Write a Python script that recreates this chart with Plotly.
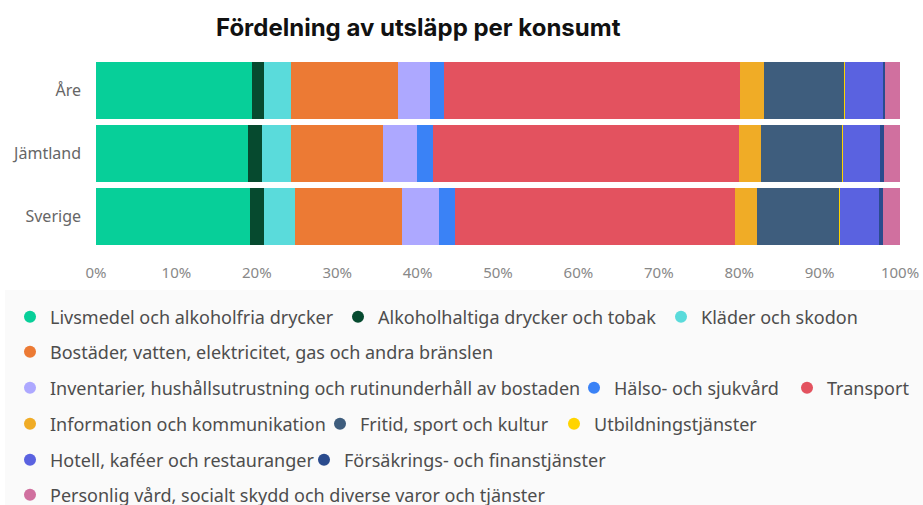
import plotly.graph_objects as go

regions = ["Åre", "Jämtland", "Sverige"]

categories = [
    "Livsmedel och alkoholfria drycker",
    "Alkoholhaltiga drycker och tobak",
    "Kläder och skodon",
    "Bostäder, vatten, elektricitet, gas och andra bränslen",
    "Inventarier, hushållsutrustning och rutinunderhåll av bostaden",
    "Hälso- och sjukvård",
    "Transport",
    "Information och kommunikation",
    "Fritid, sport och kultur",
    "Utbildningstjänster",
    "Hotell, kaféer och restauranger",
    "Försäkrings- och finanstjänster",
    "Personlig vård, socialt skydd och diverse varor och tjänster",
]

# Share (%) per region: [Åre, Jämtland, Sverige]
livsmedel = [19.4, 18.9, 19.2]
alkohol = [1.5, 1.7, 1.7]
klader = [3.4, 3.6, 3.9]
bostader = [13.2, 11.5, 13.2]
inventarier = [4.0, 4.2, 4.6]
halso = [1.8, 2.0, 2.1]
transport = [36.8, 38.1, 34.8]
information = [3.0, 2.7, 2.7]
fritid = [10.0, 10.2, 10.3]
utbildning = [0.01, 0.01, 0.01]
hotell = [4.79, 4.59, 4.89]
forsakring = [0.2, 0.5, 0.5]
personlig = [1.9, 2.0, 2.1]

tick_values = [0, 0.1, 0.2, 0.3, 0.4, 0.5, 0.6, 0.7, 0.8, 0.9, 1.0]
tick_labels = ["0%", "10%", "20%", "30%", "40%", "50%", "60%", "70%", "80%", "90%", "100%"]

series = [livsmedel, alkohol, klader, bostader, inventarier, halso, transport,
          information, fritid, utbildning, hotell, forsakring, personlig]

colors = ["#07CF99", "#064A2F", "#5ADBDB", "#EC7A34", "#ADA8FF", "#3A82F6",
          "#E3525F", "#F0AC26", "#3E5D7D", "#FFD400", "#5A62E0", "#2A4B8D",
          "#D0709F"]

# Legend layout (row index, marker x in reference pixels) per category
legend_row = [0, 0, 0, 1, 2, 2, 2, 3, 3, 3, 4, 4, 5]
legend_mx = [30, 358, 681, 30, 30, 594, 807, 30, 340, 574, 30, 324, 30]
row_y = [317, 352, 388, 424, 460, 495]

W, H = 923, 505
plot_left, plot_right, plot_top, plot_bot = 96, 900, 59, 248

fig = go.Figure()
for name, vals, col in zip(categories, series, colors):
    fig.add_trace(go.Bar(
        y=regions, x=[v / 100 for v in vals], name=name, orientation="h",
        marker=dict(color=col, line=dict(width=0)), showlegend=False,
    ))

font_leg = dict(family="Noto Sans", size=18, color="#4d4d4d")
layout_legends = {}
for i, name in enumerate(categories):
    ln = "legend" if i == 0 else f"legend{i + 1}"
    fig.add_trace(go.Scatter(
        x=[None], y=[None], mode="markers", name=name,
        marker=dict(color=colors[i], size=12, symbol="circle"),
        legend=ln, showlegend=True,
    ))
    layout_legends[ln] = dict(
        orientation="h", traceorder="normal",
        x=(legend_mx[i] - 20) / W, xanchor="left", xref="container",
        y=1 - row_y[legend_row[i]] / H, yanchor="middle", yref="container",
        font=font_leg, bgcolor="rgba(0,0,0,0)", borderwidth=0,
        itemclick=False, itemdoubleclick=False,
    )

ph = plot_bot - plot_top
pw = plot_right - plot_left
fig.update_layout(
    width=W, height=H,
    margin=dict(l=plot_left, r=W - plot_right, t=plot_top, b=H - plot_bot,
                autoexpand=False),
    paper_bgcolor="white", plot_bgcolor="white",
    barmode="stack", bargap=0.1,
    title=dict(text="<b>Fördelning av utsläpp per konsumt</b>",
               x=216 / W, xanchor="left", xref="container",
               y=1 - 28 / H, yanchor="middle", yref="container",
               font=dict(family="Inter", size=24, color="#111111")),
    xaxis=dict(range=[0, 1], tickvals=tick_values, ticktext=tick_labels,
               showgrid=False, zeroline=False, showline=False, ticks="",
               automargin=False, ticklabelstandoff=14, ticklabeloverflow="allow",
               tickfont=dict(family="Noto Sans", size=15, color="#888888")),
    yaxis=dict(autorange="reversed", showgrid=False, zeroline=False,
               ticks="", ticklabelstandoff=14, automargin=False,
               tickfont=dict(family="Noto Sans", size=16, color="#666666")),
    shapes=[dict(type="rect", xref="paper", yref="paper",
                 x0=(5 - plot_left) / pw, x1=(W - plot_left) / pw,
                 y0=(plot_bot - H) / ph, y1=(plot_bot - 290) / ph,
                 fillcolor="#fafafa", line=dict(width=0), layer="below")],
    **layout_legends,
)

fig.write_html(
    "out.html",
    config={"displayModeBar": False},
    post_script="document.body.style.margin='0';document.body.style.overflow='hidden';",
)
